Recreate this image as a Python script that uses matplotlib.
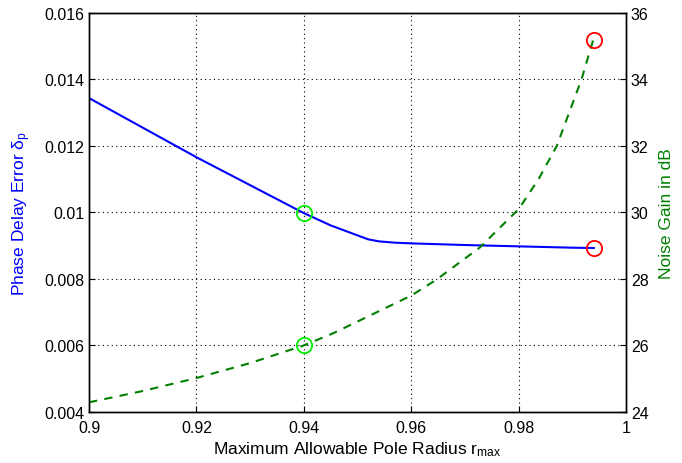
""" Phase delay error and noise gain versus maximum pole radius. """

import matplotlib
matplotlib.use("Agg")
import matplotlib.pyplot as plt
from matplotlib.ticker import FuncFormatter

plt.rcParams["font.family"] = ["Liberation Sans", "DejaVu Sans"]
plt.rcParams["mathtext.fontset"] = "custom"
plt.rcParams["mathtext.rm"] = "Liberation Sans"
plt.rcParams["mathtext.it"] = "Liberation Sans:italic"

# Phase delay error (left axis)
r_delay = [0.900, 0.910, 0.920, 0.930, 0.940, 0.945, 0.950, 0.952, 0.954, 0.957, 0.960,
           0.970, 0.980, 0.990, 0.994]
delay_err = [0.01344, 0.01255, 0.01166, 0.01082, 0.00998, 0.00961, 0.00931, 0.00919, 0.00913,
             0.00909, 0.00907, 0.00902, 0.00898, 0.00894, 0.00893]

# Noise gain in dB (right axis)
r_noise = [0.900, 0.910, 0.920, 0.930, 0.940, 0.9455, 0.950, 0.960, 0.9647, 0.9728, 0.980,
           0.9837, 0.9871, 0.9917, 0.9939]
noise_db = [24.29, 24.63, 25.02, 25.47, 26.00, 26.37, 26.72, 27.50, 27.98, 28.95, 30.10,
            31.00, 32.00, 34.00, 35.20]

# chosen design points
r_sel = [0.94, 0.994]

fig = plt.figure(figsize=(6.82, 4.64), dpi=100)
ax = fig.add_axes([0.1305, 0.110, 0.7875, 0.860])
ax2 = ax.twinx()

ax.plot(r_delay, delay_err, color="blue", lw=1.5)
ax.plot(r_sel[0], delay_err[4], "o", mfc="none", mec="#00ee00", ms=11, mew=1.3)
ax.plot(r_sel[1], delay_err[-1], "o", mfc="none", mec="red", ms=11, mew=1.3)

ax2.plot(r_noise, noise_db, color="#007f00", lw=1.5, ls=(0, (4, 3.5)))
ax2.plot(r_sel[0], noise_db[4], "o", mfc="none", mec="#00ee00", ms=11, mew=1.3)
ax2.plot(r_sel[1], noise_db[-1], "o", mfc="none", mec="red", ms=11, mew=1.3)

ax.set_xlim(0.9, 1.0)
ax.set_ylim(0.004, 0.016)
ax2.set_ylim(24, 36)
ax.set_xticks([0.9, 0.92, 0.94, 0.96, 0.98, 1.0])
ax.set_yticks([0.004, 0.006, 0.008, 0.01, 0.012, 0.014, 0.016])
ax2.set_yticks([24, 26, 28, 30, 32, 34, 36])
fmt = FuncFormatter(lambda v, p: "%g" % round(v, 6))
ax.xaxis.set_major_formatter(fmt)
ax.yaxis.set_major_formatter(fmt)

ax.grid(True, color="black", ls=(0, (1, 3)), lw=0.8)
for a in (ax, ax2):
    a.tick_params(direction="in", labelsize=11.5, length=4, width=0.8, pad=3.5)
    for s in a.spines.values():
        s.set_linewidth(1.0)
ax.tick_params(axis="x", pad=6)

ax.set_xlabel(r"Maximum Allowable Pole Radius r$_{\mathrm{max}}$", fontsize=12.5, labelpad=3)
ax.set_ylabel(r"Phase Delay Error $\mathrm{\delta}_{\mathrm{p}}$", fontsize=12.5, color="blue", labelpad=8)
ax2.set_ylabel("Noise Gain in dB", fontsize=12.5, color="#007f00", labelpad=7)

fig.savefig("out.png", dpi=100)
plt.close(fig)
